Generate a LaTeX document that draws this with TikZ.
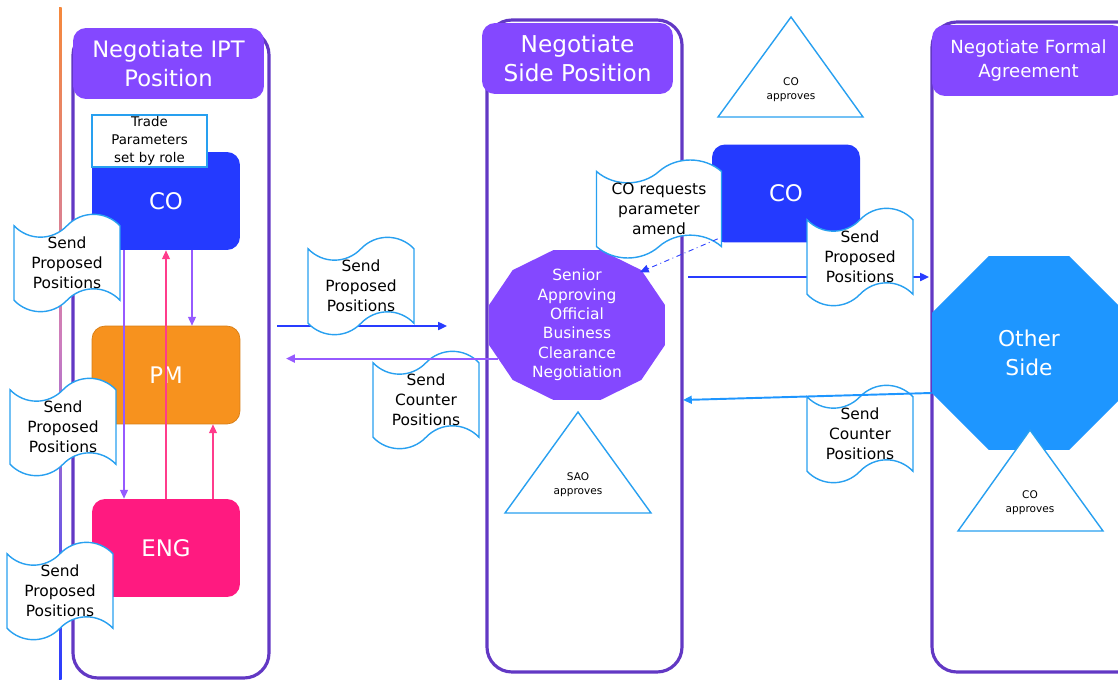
\documentclass[tikz,border=0pt]{standalone}
\usepackage{fontspec}
\setmainfont{DejaVu Sans}
\usetikzlibrary{shapes.symbols,shapes.geometric,arrows.meta}
\definecolor{lanepurple}{RGB}{98,56,196}
\definecolor{headpurple}{RGB}{132,72,255}
\definecolor{coblue}{RGB}{36,58,255}
\definecolor{pmorange}{RGB}{247,146,30}
\definecolor{pmedge}{RGB}{215,125,20}
\definecolor{engpink}{RGB}{255,26,128}
\definecolor{tapeblue}{RGB}{40,160,240}
\definecolor{otherblue}{RGB}{30,150,255}
\definecolor{arrowpurple}{RGB}{150,90,255}
\definecolor{arrowpink}{RGB}{255,60,140}
\definecolor{linkblue}{RGB}{40,60,255}
\definecolor{lineorange}{RGB}{245,136,60}
\definecolor{linemauve}{RGB}{205,125,190}
\tikzset{
  lane/.style={draw=lanepurple,line width=1.8pt,rounded corners=0.5cm},
  lanehead/.style={fill=headpurple,rounded corners=0.26cm,text=white,align=center,inner sep=0pt,minimum width=3.82cm,minimum height=1.42cm},
  role/.style={rounded corners=0.26cm,text=white,minimum width=2.96cm,minimum height=1.96cm,font=\fontsize{13}{15}\selectfont},
  msg/.style={tape,draw=tapeblue,fill=white,line width=0.8pt,align=center,inner sep=0pt,minimum width=2.12cm,minimum height=1.8cm,tape bend height=13pt,font=\fontsize{8.8}{11.3}\selectfont},
  approve/.style={draw=tapeblue,fill=white,line width=0.8pt},
  approvetext/.style={align=center,inner sep=0pt,font=\fontsize{6}{7.9}\selectfont},
  tip/.style={-{Triangle[length=5pt,width=4.5pt]}}
}
\begin{document}
\begin{tikzpicture}[x=0.02cm,y=-0.02cm]
\pgfmathsetmacro{\sx}{91}
\pgfmathsetmacro{\sy}{77.6}
\useasboundingbox (0,0) rectangle (1118,679);
\clip (0,0) rectangle (1118,679);
%timeline
\shade[top color=lineorange,bottom color=linkblue,middle color=linemauve] (59,8) rectangle (61.5,679);
%lanes
\draw[lane] (73,30) rectangle (269,678);
\draw[lane] (487,20) rectangle (682,672);
\draw[lane] (932,22) rectangle (1150,672);
\node[lanehead,font=\fontsize{12.9}{17}\selectfont] (ipt) at (168.5,63.5) {Negotiate IPT\\Position};
\node[lanehead,font=\fontsize{13.2}{16.6}\selectfont] (side) at (577.5,58.5) {Negotiate\\Side Position};
\node[lanehead,minimum width=3.86cm,font=\fontsize{10.3}{13.6}\selectfont] (formal) at (1028.5,60.5) {Negotiate Formal\\Agreement};
%roles
\node[role,fill=coblue] (co) at (166,201) {CO};
\node[draw=tapeblue,fill=white,line width=0.8pt,align=center,minimum width=2.3cm,minimum height=1.04cm,inner sep=0pt,font=\fontsize{7.6}{10.2}\selectfont] (trade) at (149.5,141) {Trade\\Parameters\\set by role};
\node[role,fill=pmorange,draw=pmedge,line width=0.4pt] (pm) at (166,375) {PM};
\node[role,fill=engpink] (eng) at (166,548) {ENG};
\draw[arrowpurple,line width=0.7pt,tip] ([xshift=-0.84cm]co.south) -- ([xshift=-0.84cm]eng.north);
\draw[arrowpurple,line width=0.7pt,tip] ([xshift=0.52cm]co.south) -- ([xshift=0.52cm]pm.north);
\draw[arrowpink,line width=0.7pt,tip] (eng.north) -- (co.south);
\draw[arrowpink,line width=0.7pt,tip] ([xshift=0.94cm]eng.north) -- ([xshift=0.94cm]pm.south);
%sao
\fill[headpurple] plot[samples at={15,45,...,345}] ({577+\sx*cos(\x)},{325+\sy*sin(\x)}) -- cycle;
\node[ellipse,minimum width=3.52cm,minimum height=3cm,inner sep=0pt] (sao) at (577,325) {};
\node[align=center,text=white,inner sep=0pt,font=\fontsize{8.8}{11}\selectfont] (saotext) at (sao.center) {Senior\\Approving\\Official\\Business\\Clearance\\Negotiation};
\draw[approve] (578,412) -- (651,513) -- (505,513) -- cycle;
\node[approvetext] (saoapp) at (578,485) {SAO\\approves};
%right side
\draw[approve] (791,17) -- (863,117) -- (718,117) -- cycle;
\node[approvetext] (coapp) at (791,90) {CO\\approves};
\node[role,fill=coblue] (cor) at (786,193.5) {CO};
\node[regular polygon,regular polygon sides=8,minimum size=4.2cm,fill=otherblue,text=white,align=center,inner sep=0pt,font=\fontsize{12.4}{16.4}\selectfont] (other) at (1029,353) {Other\\Side};
\draw[approve] (1030,430) -- (1103,531) -- (958,531) -- cycle;
\node[approvetext] (otherapp) at (1030,503) {CO\\approves};
%links
\coordinate (ppA) at (277,326);
\coordinate (ppB) at (447,326);
\coordinate (cpB) at (286,357);
\coordinate (rpA) at (688,277);
\coordinate (rpB) at (929,277);
\coordinate (rcB) at (683,400);
\draw[linkblue,line width=1.1pt,tip] (ppA) -- (ppB);
\draw[linkblue,line width=1.1pt,tip] (rpA) -- (rpB);
%messages
\node[msg] (send1) at (67,263) {Send\\Proposed\\Positions};
\node[msg] (send2) at (63,427) {Send\\Proposed\\Positions};
\node[msg] (send3) at (60,591) {Send\\Proposed\\Positions};
\node[msg] (send4) at (361,286) {Send\\Proposed\\Positions};
\node[msg] (counter1) at (426,400) {Send\\Counter\\Positions};
\node[msg,minimum width=2.5cm,minimum height=1.96cm] (amend) at (659,209) {CO requests\\parameter\\amend};
\node[msg] (send5) at (860,257) {Send\\Proposed\\Positions};
\node[msg] (counter2) at (860,434) {Send\\Counter\\Positions};
\draw[arrowpurple,line width=1.1pt,tip] (sao.203) -- (sao.203 -| cpB);
\draw[otherblue,line width=1.1pt,tip] ([yshift=-0.8cm]other.west) -- (rcB);
\draw[linkblue,line width=0.5pt,dash dot,tip] ([xshift=0.12cm,yshift=0.08cm]cor.south west) -- (sao.40);
\end{tikzpicture}
\end{document}
